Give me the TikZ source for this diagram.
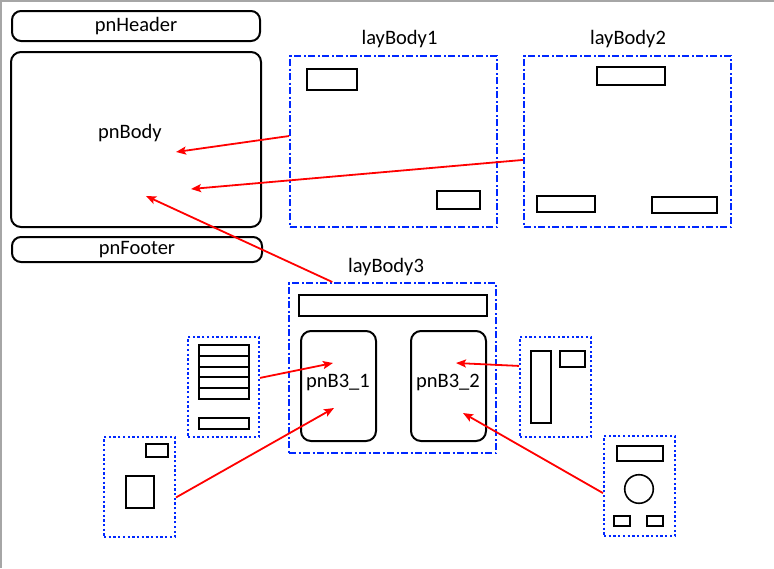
\documentclass[tikz,border=0pt]{standalone}
\usepackage{fontspec}
\setmainfont{Carlito}
\usetikzlibrary{arrows.meta}
\definecolor{layblue}{RGB}{0,40,255}
\definecolor{linkred}{RGB}{255,0,0}

\begin{document}
\begin{tikzpicture}[x=1pt, y=-1pt,
        every node/.style={font=\fontsize{20.5}{24}\selectfont, inner sep=0pt},
        pane/.style={draw, line width=2pt, rounded corners=9pt},
        lay/.style={draw=layblue, line width=2pt, dash pattern=on 7pt off 2.5pt on 2pt off 2.5pt},
        part/.style={draw=layblue, line width=2pt, dash pattern=on 2.3pt off 2.4pt},
        box/.style={draw, line width=2pt},
        link/.style={draw=linkred, line width=1.8pt, -{Stealth[length=10pt,width=8pt,inset=2pt]}}]
        \useasboundingbox (0,0) rectangle (774,568);
        \draw[black!35, line width=2pt] (1,568) -- (1,1) -- (774,1);

        % form panels
        \node[pane, minimum width=248pt, minimum height=30pt] (pnHeader) at (136,26) {pnHeader};
        \node[pane, rounded corners=10pt, minimum width=250pt, minimum height=175pt] (pnBody) at (136,139.5) {};
        \node (pnBodyText) at (130,133) {pnBody};
        \node[pane, minimum width=250pt, minimum height=25pt] (pnFooter) at (137,249.5) {pnFooter};

        % layouts
        \node[lay, minimum width=207pt, minimum height=171pt] (layBody1) at (393.5,141.5) {};
        \node (layBody1Text) at (399.5,39) {layBody1};
        \node[box, minimum width=50pt, minimum height=21pt] (b1a) at (332,79.5) {};
        \node[box, minimum width=43pt, minimum height=18pt] (b1b) at (458.5,200) {};

        \node[lay, minimum width=207pt, minimum height=171pt] (layBody2) at (627.5,141.5) {};
        \node (layBody2Text) at (628,39) {layBody2};
        \node[box, minimum width=68pt, minimum height=18pt] (b2a) at (631,76) {};
        \node[box, minimum width=58pt, minimum height=16pt] (b2b) at (566,204) {};
        \node[box, minimum width=65pt, minimum height=16pt] (b2c) at (684.5,205) {};

        \node[lay, minimum width=207pt, minimum height=170pt] (layBody3) at (392.5,368) {};
        \node (layBody3Text) at (386,267.5) {layBody3};
        \node[box, minimum width=188pt, minimum height=21pt] (b3a) at (393,305.5) {};
        \node[pane, rounded corners=10pt, minimum width=75pt, minimum height=110pt] (pnB3a) at (338.5,386) {};
        \node (pnB3aText) at (338,382) {pnB3\_1};
        \node[pane, rounded corners=10pt, minimum width=75pt, minimum height=110pt] (pnB3b) at (448.5,386) {};
        \node (pnB3bText) at (448,382) {pnB3\_2};

        % small layouts
        \node[part, minimum width=71pt, minimum height=100pt] (partA) at (223.5,387) {};
        \foreach \i in {0,...,4}
            \node[box, minimum width=50pt, minimum height=10.8pt] (rowA\i) at (224,{350.4+10.8*\i}) {};
        \node[box, minimum width=50pt, minimum height=11pt] (rowA5) at (224,423.5) {};

        \node[part, minimum width=71pt, minimum height=100pt] (partB) at (139.5,487) {};
        \node[box, minimum width=22pt, minimum height=13pt] (bBa) at (157,450.5) {};
        \node[box, minimum width=28pt, minimum height=32pt] (bBb) at (140,492) {};

        \node[part, minimum width=71pt, minimum height=100pt] (partC) at (555.5,387) {};
        \node[box, minimum width=20pt, minimum height=72pt] (bCa) at (541,387) {};
        \node[box, minimum width=25pt, minimum height=16pt] (bCb) at (572.5,359) {};

        \node[part, minimum width=71pt, minimum height=100pt] (partD) at (639.5,486) {};
        \node[box, minimum width=46pt, minimum height=15pt] (bDa) at (640,453.5) {};
        \node[draw, circle, line width=1.6pt, minimum size=28.6pt] (bDb) at (639,489) {};
        \node[box, minimum width=16pt, minimum height=10pt] (bDc) at (622,521) {};
        \node[box, minimum width=16pt, minimum height=10pt] (bDd) at (655,521) {};

        % arrow ends
        \coordinate (tipBody1) at (176,152);
        \coordinate (tipBody2) at (191,189);
        \coordinate (tipBody3) at (146,196);
        \coordinate (tipB3a1) at (333,363);
        \coordinate (tipB3a2) at (334,408);
        \coordinate (tipB3b1) at (456,363);
        \coordinate (tipB3b2) at (463,413);

        \draw[link] (layBody1.177.5) -- (tipBody1);
        \draw[link] (layBody2.190.1) -- (tipBody2);
        \draw[link] (layBody3.125) -- (tipBody3);
        \draw[link] (partA.14.2) -- (tipB3a1);
        \draw[link] (partB.344.3) -- (tipB3a2);
        \draw[link] (partC.150.6) -- (tipB3b1);
        \draw[link] (partD.191.2) -- (tipB3b2);
    \end{tikzpicture}
\end{document}
